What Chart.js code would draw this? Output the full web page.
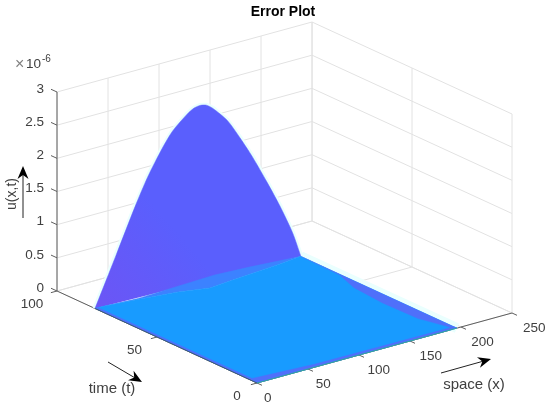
<!DOCTYPE html>
<html>
<head>
<meta charset="utf-8">
<title>Error Plot</title>
<script src="https://cdn.jsdelivr.net/npm/chart.js@4"></script>
<style>
    html, body { margin: 0; padding: 0; background: #fff; }
    canvas { display: block; }
</style>
</head>
<body>
<canvas id="errorPlot" width="550" height="409"></canvas>
<script>
// Axis ticks
const xTicks = [0, 50, 100, 150, 200, 250];
const tTicks = [0, 50, 100];
const uTicks = [0, 0.5, 1, 1.5, 2, 2.5, 3];

// Hump at the far end of the surface (u in units of 1e-6)
const humpX = [0, 20, 38, 50, 64, 74, 88, 94, 100, 106, 112, 126, 138, 150, 164, 176, 188, 196];
const humpT = [81, 80.7, 80.4, 80.2, 80, 79.9, 79.7, 79.6, 79.5, 79.4, 79.3, 79.1, 78.9, 78.7, 78.5, 78.3, 78.1, 78];
const humpU = [0, 0.72, 1.38, 1.78, 2.16, 2.38, 2.58, 2.64, 2.66, 2.64, 2.57, 2.33, 2.02, 1.68, 1.24, 0.84, 0.39, 0];

// Colour regions on the floor of the surface
const floorX = [0, 196, 196, 170, 120, 98, 73, 36, 9.5, 0];
const floorT = [0, 0, 78, 76.6, 74.5, 73.5, 76.7, 79.3, 80.8, 81];
const bandX = [0, 40, 118, 150, 196, 170, 120, 98, 73, 36, 9.5, 0];
const bandT = [81, 79.8, 81.4, 80.3, 78, 76.6, 74.5, 73.5, 76.7, 79.3, 80.8, 81];
const wedgeX = [196, 195, 187, 184, 185, 193, 196];
const wedgeT = [78, 58, 47, 31, 14, 2, 0];
const frontX = [0, 196, 196, 60, 3, 3, 0];
const frontT = [0, 0, 1.5, 2, 4, 81, 81];

// View of the 3d box on the page
function project(x, t, u) {
    return {
        x: 257 + 1.02 * x - 2 * t,
        y: 383 - 0.28 * x - 0.92 * t - 66.33 * u
    };
}

function pathOf(xs, ts, us) {
    return xs.map((x, i) => project(x, ts[i], us ? us[i] : 0));
}

function lineSet(points, color, width) {
    return { data: points, borderColor: color, borderWidth: width, pointRadius: 0, showLine: true, fill: false };
}

function areaSet(points, color) {
    return { data: points, borderColor: color, backgroundColor: color, borderWidth: 0.5, pointRadius: 0, showLine: true, fill: "shape" };
}

const GRID = "#e2e2e2";
const AXIS = "#5e5e5e";
const HALO = "#eafffe";
const X_MAX = xTicks[xTicks.length - 1];
const T_MAX = tTicks[tTicks.length - 1];
const U_MAX = uTicks[uTicks.length - 1];

let canvas = document.getElementById("errorPlot");
let humpFill = canvas.getContext("2d").createLinearGradient(105, 300, 180, 235);
humpFill.addColorStop(0, "#6a56f6");
humpFill.addColorStop(1, "#5a5ffd");

let layers = [];

// Grid on the two walls and the floor
uTicks.forEach(u => {
    layers.push(lineSet([project(0, T_MAX, u), project(X_MAX, T_MAX, u), project(X_MAX, 0, u)], GRID, 1));
});
xTicks.forEach(x => {
    layers.push(lineSet([project(x, 0, 0), project(x, T_MAX, 0), project(x, T_MAX, U_MAX)], GRID, 1));
});
tTicks.forEach(t => {
    layers.push(lineSet([project(0, t, 0), project(X_MAX, t, 0), project(X_MAX, t, U_MAX)], GRID, 1));
});

// Axis lines and tick marks
layers.push(lineSet([project(0, T_MAX, 0), project(0, T_MAX, U_MAX)], AXIS, 1));
layers.push(lineSet([project(0, 0, 0), project(0, T_MAX, 0)], AXIS, 1));
layers.push(lineSet([project(0, 0, 0), project(X_MAX, 0, 0)], AXIS, 1));
uTicks.forEach(u => layers.push(lineSet([project(0, T_MAX, u), project(0, T_MAX + 3, u)], AXIS, 1)));
tTicks.forEach(t => layers.push(lineSet([project(0, t, 0), project(-6, t, 0)], AXIS, 1)));
xTicks.forEach(x => layers.push(lineSet([project(x, 0, 0), project(x, -2.5, 0)], AXIS, 1)));

// Pale edge round the surface, as in the picture
layers.push(lineSet(pathOf(humpX, humpT, humpU), HALO, 5));
layers.push(lineSet([project(196, 78, 0), project(196, 0, 0)], HALO, 10));

// Surface
let hump = areaSet(pathOf(humpX, humpT, humpU), "#5a5ffd");
hump.backgroundColor = humpFill;
hump.tension = 0.25;
layers.push(hump);
layers.push(areaSet(pathOf(bandX, bandT), "#3c82ff"));
layers.push(areaSet(pathOf(floorX, floorT), "#189bff"));
layers.push(areaSet(pathOf(wedgeX, wedgeT), "#4f70fa"));
layers.push(areaSet(pathOf(frontX, frontT), "#4f70fa"));
layers.push(lineSet([project(0, 0, 0), project(196, 0, 0)], "#2fa89a", 1));
layers.push(lineSet([project(0, 0, 0), project(0, 81, 0)], "#3a5a78", 1));

// Text and arrows on top of the chart
const labelsPlugin = {
    id: "labels",
    afterDraw(chart) {
        const ctx = chart.ctx;
        const family = "'Liberation Sans', Arial, sans-serif";
        ctx.save();
        ctx.fillStyle = "#404040";
        ctx.font = "13.5px " + family;
        ctx.textBaseline = "middle";

        ctx.textAlign = "right";
        uTicks.forEach(u => {
            let p = project(0, T_MAX, u);
            ctx.fillText(String(u), 44, p.y - 3);
        });

        ctx.textAlign = "center";
        tTicks.forEach(t => {
            let p = project(0, t, 0);
            ctx.fillText(String(t), p.x - 20 - t * 0.05, p.y + 13.5);
        });

        ctx.textAlign = "left";
        xTicks.forEach(x => {
            let p = project(x, 0, 0);
            ctx.fillText(String(x), p.x + 7 + x * 0.016, p.y + 15);
        });

        ctx.textAlign = "center";
        ctx.font = "15px " + family;
        ctx.fillText("time (t)", 112, 389);
        ctx.fillText("space (x)", 474, 385);

        ctx.save();
        ctx.translate(12, 194);
        ctx.rotate(-Math.PI / 2);
        ctx.font = "14px " + family;
        ctx.fillText("u(x,t)", 0, 0);
        ctx.restore();

        // Exponent
        ctx.textAlign = "left";
        ctx.fillStyle = "#808080";
        ctx.font = "16px " + family;
        ctx.fillText("×", 15, 65);
        ctx.fillStyle = "#404040";
        ctx.font = "13.5px " + family;
        ctx.fillText("10", 26, 64);
        ctx.font = "10px " + family;
        ctx.fillText("-6", 42, 59);

        // Title
        ctx.fillStyle = "#000";
        ctx.textAlign = "center";
        ctx.font = "bold 14px " + family;
        ctx.fillText("Error Plot", 283, 12);

        drawArrow(ctx, 23, 218, 23, 166);
        drawArrow(ctx, 108, 362, 142, 382);
        drawArrow(ctx, 441, 373, 491, 359);
        ctx.restore();
    }
};

function drawArrow(ctx, x1, y1, x2, y2) {
    let a = Math.atan2(y2 - y1, x2 - x1);
    ctx.strokeStyle = "#222";
    ctx.lineWidth = 1;
    ctx.beginPath();
    ctx.moveTo(x1, y1);
    ctx.lineTo(x2 - 6 * Math.cos(a), y2 - 6 * Math.sin(a));
    ctx.stroke();
    ctx.fillStyle = "#000";
    ctx.save();
    ctx.translate(x2, y2);
    ctx.rotate(a);
    ctx.beginPath();
    ctx.moveTo(0, 0);
    ctx.lineTo(-13, -5.5);
    ctx.lineTo(-9, 0);
    ctx.lineTo(-13, 5.5);
    ctx.closePath();
    ctx.fill();
    ctx.restore();
}

// Chart.js paints the first dataset last
new Chart(canvas, {
    type: "scatter",
    data: { datasets: layers.reverse() },
    options: {
        responsive: false,
        animation: false,
        events: [],
        layout: { padding: 0 },
        scales: {
            x: { type: "linear", display: false, min: 0, max: 550 },
            y: { type: "linear", display: false, min: 0, max: 409, reverse: true }
        },
        plugins: {
            legend: { display: false },
            tooltip: { enabled: false },
            filler: { drawTime: "beforeDatasetDraw" }
        }
    },
    plugins: [labelsPlugin]
});
</script>
</body>
</html>
